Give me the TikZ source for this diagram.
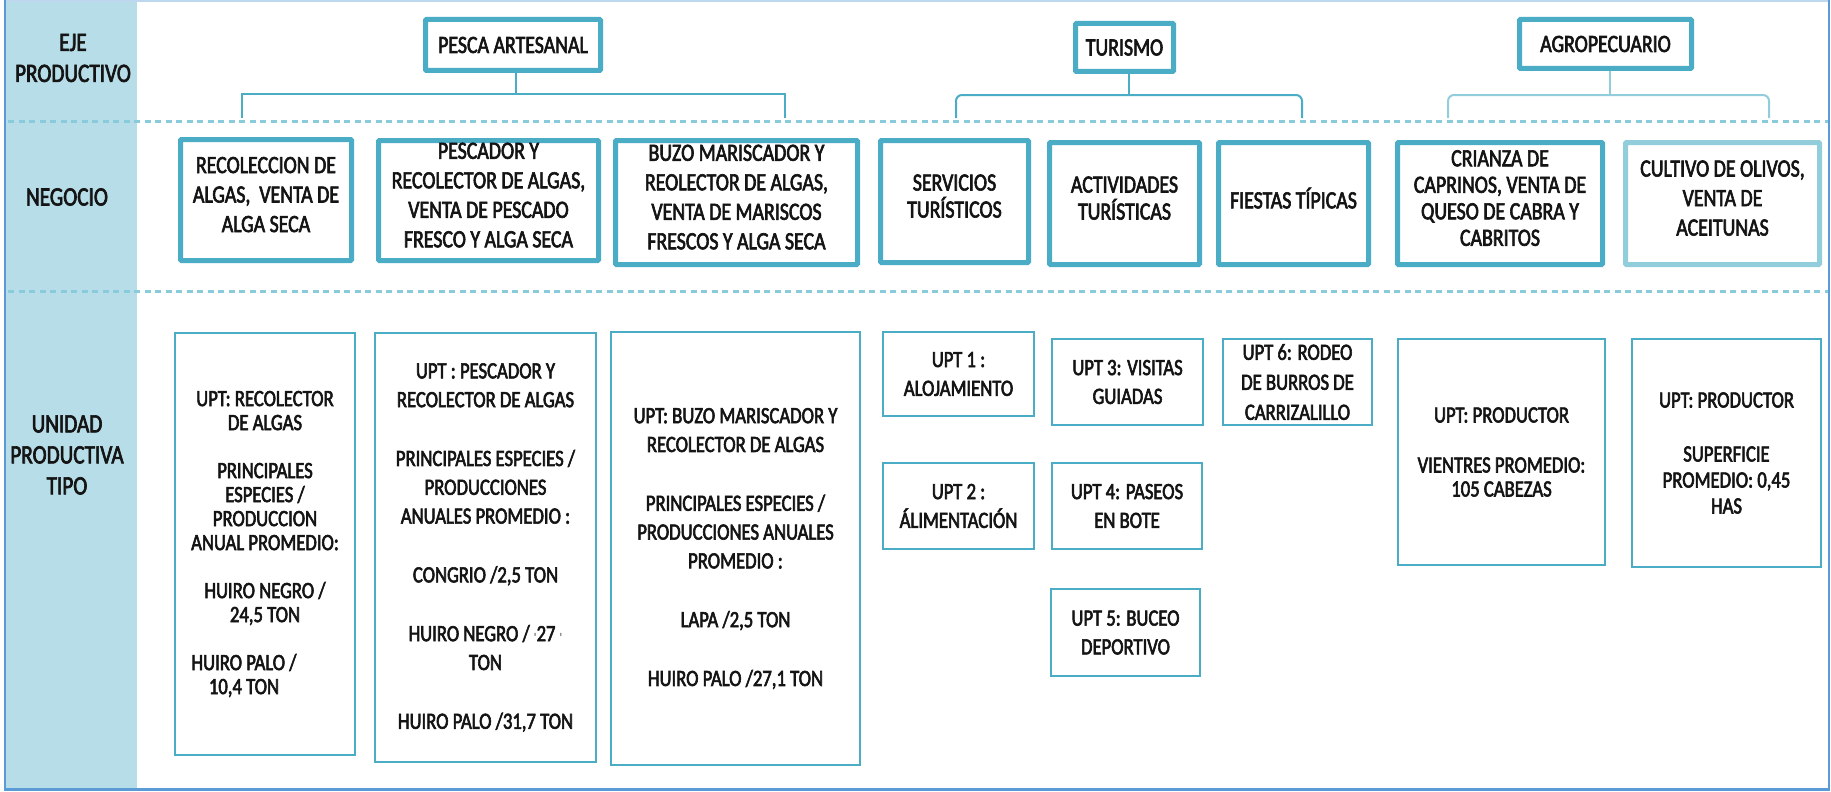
\documentclass[tikz,border=0pt]{standalone}
\usepackage{fontspec}
\setmainfont[FakeStretch=0.8,FakeBold=2.5]{Carlito}
\definecolor{aqua}{HTML}{4BACC6}
\definecolor{aqualt}{HTML}{92CDDC}
\definecolor{bandc}{HTML}{B7DDE8}
\definecolor{framec}{HTML}{5B9BD5}
\definecolor{framelt}{HTML}{BDD7EE}
\definecolor{dashc}{HTML}{8ACBDB}
\definecolor{txt}{HTML}{141414}
\newcommand\fsRow{\fontsize{26.5}{31}\selectfont}
\newcommand\fsNeg{\fontsize{24.8}{29.5}\selectfont}
\newcommand\fsUpt{\fontsize{23.3}{28.8}\selectfont}
\newcommand\fsUptS{\fontsize{23.3}{24}\selectfont}
\newcommand\fsUptM{\fontsize{23.3}{26}\selectfont}
\begin{document}
\begin{tikzpicture}[x=1pt,y=-1pt,
  rowlab/.style={align=center,font=\fsRow,text=txt,inner sep=0pt},
  topbox/.style={draw=aqua,line width=5pt,fill=white,align=center,font=\fsNeg,text=txt,inner sep=1pt,rounded corners=1pt},
  negbox/.style={topbox,text depth=11pt},
  negboxlt/.style={negbox,draw=aqualt},
  uptbox/.style={draw=aqua,line width=1.8pt,fill=white,align=center,font=\fsUpt,text=txt,inner sep=1pt},
  brk/.style={draw=aqua,line width=2pt},
  brklt/.style={draw=aqualt,line width=2pt},
  sepline/.style={draw=dashc,line width=3pt,dash pattern=on 6pt off 4.5pt}
]
\useasboundingbox (0,0) rectangle (1831,792);
% left band and frame
\fill[bandc] (6,0) rectangle (137,790);
\draw[framelt,line width=2pt] (5,1) -- (1829,1);
\draw[framec,line width=2.5pt] (5,0) -- (5,790);
\draw[framec,line width=2.5pt] (1829,0) -- (1829,790);
\draw[framec,line width=3pt] (4,789.5) -- (1830,789.5);
% separators
\draw[sepline] (8,121) -- (1828,121);
\draw[sepline] (8,291) -- (1828,291);
% row labels
\node[rowlab] (lab1) at (73,58) {EJE\\PRODUCTIVO};
\node[rowlab] (lab2) at (67,197) {NEGOCIO};
\node[rowlab] (lab3) at (67,455) {UNIDAD\\PRODUCTIVA\\TIPO};
% top level
\node[topbox,minimum width=175,minimum height=51] (pesca) at (513,45) {PESCA ARTESANAL};
\node[topbox,minimum width=98,minimum height=48] (turismo) at (1124.5,47.5) {TURISMO};
\node[topbox,minimum width=172,minimum height=49] (agro) at (1605.5,44) {AGROPECUARIO};
% brackets
\coordinate (pJ) at (516,94);
\coordinate (pL) at (242,118);
\coordinate (pR) at (785,118);
\draw[brk] (pesca.south -| pJ) -- (pJ);
\draw[brk] (pL) |- (pJ) -| (pR);
\coordinate (tJ) at (1129,95);
\coordinate (tL) at (956,118);
\coordinate (tR) at (1302,118);
\draw[brk] (turismo.south -| tJ) -- (tJ);
\draw[brk,rounded corners=6pt] (tL) |- (tJ) -| (tR);
\coordinate (aJ) at (1610,95);
\coordinate (aL) at (1448,118);
\coordinate (aR) at (1769,118);
\draw[brklt] (agro.south -| aJ) -- (aJ);
\draw[brklt,rounded corners=6pt] (aL) |- (aJ) -| (aR);
% negocio
\node[negbox,minimum width=171,minimum height=121] (n1) at (266,200) {RECOLECCION DE\\ALGAS,\ \ VENTA DE\\ALGA SECA};
\node[negbox,minimum width=220,minimum height=120] (n2) at (488.5,200.5) {PESCADOR Y\\RECOLECTOR DE ALGAS,\\VENTA DE PESCADO\\FRESCO Y ALGA SECA};
\node[negbox,minimum width=242,minimum height=124] (n3) at (736.5,202.5) {BUZO MARISCADOR Y\\REOLECTOR DE ALGAS,\\VENTA DE MARISCOS\\FRESCOS Y ALGA SECA};
\node[negbox,minimum width=148,minimum height=122,font=\fontsize{24.8}{27}\selectfont] (n4) at (954.5,201.5) {SERVICIOS\\TURÍSTICOS};
\node[negbox,minimum width=150,minimum height=122,font=\fontsize{24.8}{27}\selectfont] (n5) at (1124.5,203.5) {ACTIVIDADES\\TURÍSTICAS};
\node[negbox,minimum width=150,minimum height=122] (n6) at (1293.5,203.5) {FIESTAS TÍPICAS};
\node[negbox,minimum width=205,minimum height=122,font=\fontsize{24.8}{26.5}\selectfont] (n7) at (1500,203.5) {CRIANZA DE\\CAPRINOS, VENTA DE\\QUESO DE CABRA Y\\CABRITOS};
\node[negboxlt,minimum width=194,minimum height=122] (n8) at (1722.5,203.5) {CULTIVO DE OLIVOS,\\VENTA DE\\ACEITUNAS};
% unidad productiva tipo
\node[uptbox,minimum width=180,minimum height=422,font=\fsUptS] (uA) at (265,544) {UPT: RECOLECTOR\\DE ALGAS\\[24pt]PRINCIPALES\\ESPECIES /\\PRODUCCION\\ANUAL PROMEDIO:\\[24pt]HUIRO NEGRO /\\24,5 TON\\[24pt]\hspace*{-42pt}HUIRO PALO /\\\hspace*{-42pt}10,4 TON};
\node[uptbox,minimum width=221,minimum height=429] (uB) at (485.5,547.5) {UPT : PESCADOR Y\\RECOLECTOR DE ALGAS\\[30pt]PRINCIPALES ESPECIES /\\PRODUCCIONES\\ANUALES PROMEDIO :\\[30pt]CONGRIO /2,5 TON\\[30pt]HUIRO NEGRO / {\color{gray}\fontsize{12}{12}\selectfont\textquotesingle}27 {\color{gray}\fontsize{12}{12}\selectfont\textquotesingle}\\TON\\[30pt]HUIRO PALO /31,7 TON};
\node[uptbox,minimum width=249,minimum height=433] (uC) at (735.5,548.5) {UPT: BUZO MARISCADOR Y\\RECOLECTOR DE ALGAS\\[30pt]PRINCIPALES ESPECIES /\\PRODUCCIONES ANUALES\\PROMEDIO :\\[30pt]LAPA /2,5 TON\\[30pt]HUIRO PALO /27,1 TON};
\node[uptbox,minimum width=151,minimum height=84] (u1) at (958.5,374) {UPT 1 :\\ALOJAMIENTO};
\node[uptbox,minimum width=151,minimum height=86] (u2) at (958.5,506) {UPT 2 :\\ÁLIMENTACIÓN};
\node[uptbox,minimum width=151,minimum height=86] (u3) at (1127.5,382) {UPT 3: VISITAS\\GUIADAS};
\node[uptbox,minimum width=150,minimum height=86] (u4) at (1127,506) {UPT 4: PASEOS\\EN BOTE};
\node[uptbox,minimum width=149,minimum height=87] (u5) at (1125.5,632.5) {UPT 5: BUCEO\\DEPORTIVO};
\node[uptbox,minimum width=149,minimum height=86,font=\fontsize{23.3}{30}\selectfont] (u6) at (1297.5,382) {UPT 6: RODEO\\DE BURROS DE\\CARRIZALILLO};
\node[uptbox,minimum width=207,minimum height=226,font=\fsUptS] (p1) at (1501.5,452) {UPT: PRODUCTOR\\[26pt]VIENTRES PROMEDIO:\\105 CABEZAS};
\node[uptbox,minimum width=189,minimum height=228,font=\fsUptM] (p2) at (1726.5,453) {UPT: PRODUCTOR\\[28pt]SUPERFICIE\\PROMEDIO: 0,45\\HAS};
\end{tikzpicture}
\end{document}
